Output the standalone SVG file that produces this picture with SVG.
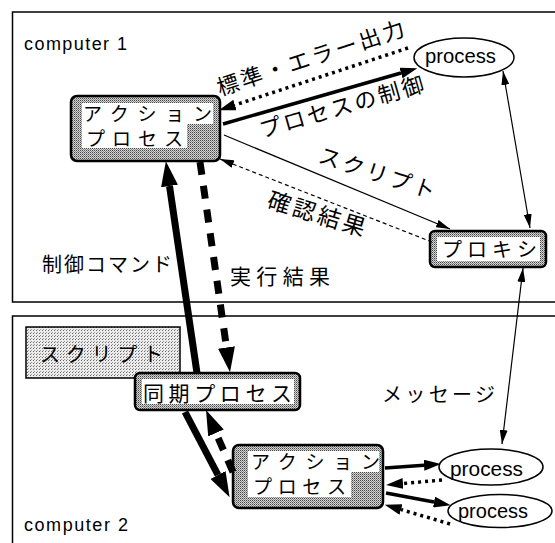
<svg xmlns="http://www.w3.org/2000/svg" width="555" height="543" viewBox="0 0 555 543">
<defs>
<pattern id="st" width="2" height="2" patternUnits="userSpaceOnUse"><rect width="2" height="2" fill="#d6d6d6"/><rect width="1" height="1" fill="#444"/><rect x="1" y="1" width="1" height="1" fill="#888"/></pattern>
<pattern id="st2" width="3" height="3" patternUnits="userSpaceOnUse"><rect width="3" height="3" fill="#ececec"/><rect width="1" height="1" fill="#666"/><rect x="1" y="2" width="1" height="1" fill="#999"/></pattern>
<marker id="at" markerUnits="userSpaceOnUse" markerWidth="14" markerHeight="8" refX="14" refY="4" orient="auto-start-reverse"><path d="M0,0 L14,4 L0,8 z" fill="#000"/></marker>
<marker id="am" markerUnits="userSpaceOnUse" markerWidth="17" markerHeight="11" refX="0" refY="5.5" orient="auto"><path d="M0,0 L17,5.5 L0,11 z" fill="#000"/></marker>
<marker id="al" markerUnits="userSpaceOnUse" markerWidth="25" markerHeight="17" refX="0" refY="8.5" orient="auto"><path d="M0,0 L25,8.5 L0,17 z" fill="#000"/></marker>
</defs>
<style>
.pn{fill:none;stroke:#000;stroke-width:1.5}
.bx{fill:url(#st);stroke:#000;stroke-width:2.5}
.wh{fill:#fff}
.el{fill:#fff;stroke:#000;stroke-width:1.5}
.jp{font-family:"Noto Sans CJK JP","Noto Sans CJK SC",sans-serif;fill:#000}
.en{font-family:"Liberation Sans",Arial,sans-serif;fill:#000}
.th{fill:none;stroke:#000;stroke-width:1.2}
.td{fill:none;stroke:#000;stroke-width:1.2;stroke-dasharray:4 3}
.md{fill:none;stroke:#000;stroke-width:3.5}
.dt{fill:none;stroke:#000;stroke-width:3.5;stroke-dasharray:3 4}
.tk{fill:none;stroke:#000;stroke-width:7}
.tkd{fill:none;stroke:#000;stroke-width:7;stroke-dasharray:13 11}
</style>

<g id="computer1">
<rect class="pn" x="12.5" y="12" width="560" height="290"/>
<text class="en" x="24" y="50" font-size="18" textLength="103" lengthAdjust="spacing">computer 1</text>
</g>
<g id="computer2">
<rect class="pn" x="12.5" y="316" width="560" height="250"/>
<text class="en" x="24" y="531" font-size="18" textLength="104" lengthAdjust="spacing">computer 2</text>
</g>

<g id="script">
<rect x="26" y="327" width="154" height="51" fill="url(#st2)" stroke="#000" stroke-width="1.5"/>
<text class="jp" x="40" y="362" font-size="20" textLength="123" lengthAdjust="spacing">スクリプト</text>
</g>

<g id="action1">
<rect class="bx" x="71" y="96" width="149" height="65" rx="6"/>
<path class="wh" d="M82,103 H213 V124 H187 V148 H82 Z"/>
<text class="jp" x="83" y="121" font-size="19" textLength="129" lengthAdjust="spacing">アクション</text>
<text class="jp" x="86" y="146" font-size="19" textLength="97" lengthAdjust="spacing">プロセス</text>
</g>

<g id="process1">
<ellipse class="el" cx="464" cy="57.5" rx="50" ry="19.5"/>
<text class="en" x="425" y="63" font-size="20" textLength="71" lengthAdjust="spacingAndGlyphs">process</text>
</g>

<g id="proxy">
<rect class="bx" x="430" y="231" width="116" height="36" rx="5"/>
<rect class="wh" x="437" y="237" width="103" height="24"/>
<text class="jp" x="442" y="257" font-size="20" textLength="95" lengthAdjust="spacing">プロキシ</text>
</g>

<g id="sync">
<rect class="bx" x="135" y="373" width="165" height="37" rx="5"/>
<rect class="wh" x="142" y="379" width="152" height="25"/>
<text class="jp" x="143" y="401" font-size="21" textLength="149" lengthAdjust="spacing">同期プロセス</text>
</g>

<g id="action2">
<rect class="bx" x="233" y="445" width="150" height="63" rx="6"/>
<path class="wh" d="M248,451 H379 V472 H351 V497 H248 Z"/>
<text class="jp" x="251" y="469" font-size="19" textLength="129" lengthAdjust="spacing">アクション</text>
<text class="jp" x="253" y="494" font-size="19" textLength="93" lengthAdjust="spacing">プロセス</text>
</g>

<g id="process2">
<ellipse class="el" cx="491" cy="467" rx="52" ry="18"/>
<text class="en" x="450" y="476" font-size="20" textLength="73" lengthAdjust="spacingAndGlyphs">process</text>
</g>
<g id="process3">
<ellipse class="el" cx="500" cy="511" rx="52" ry="16.5"/>
<text class="en" x="458" y="518" font-size="20" textLength="70" lengthAdjust="spacingAndGlyphs">process</text>
</g>

<g id="connectors">
<line class="dt" x1="408" y1="48" x2="235" y2="105" marker-end="url(#am)"/>
<line class="md" x1="223" y1="124" x2="401" y2="73" marker-end="url(#am)"/>
<line class="th" x1="224" y1="135" x2="450" y2="229" marker-end="url(#at)"/>
<line class="td" x1="432" y1="242" x2="220" y2="159" marker-end="url(#at)"/>
<line class="th" x1="503" y1="71" x2="530" y2="228" marker-start="url(#at)" marker-end="url(#at)"/>
<line class="th" x1="523" y1="268" x2="502" y2="444" marker-start="url(#at)" marker-end="url(#at)"/>
<line class="tk" x1="197" y1="373" x2="169.5" y2="186" marker-end="url(#al)"/>
<line class="tkd" x1="200" y1="162" x2="226.5" y2="347.5" marker-end="url(#al)"/>
<line class="tk" x1="185" y1="412" x2="218" y2="475" marker-end="url(#al)"/>
<line class="tkd" x1="233" y1="472" x2="216" y2="433" marker-end="url(#al)"/>
<line class="md" x1="385" y1="468" x2="424" y2="465.2" marker-end="url(#am)"/>
<line class="dt" x1="442" y1="480" x2="403" y2="483.5" marker-end="url(#am)"/>
<line class="md" x1="386" y1="493" x2="434" y2="502" marker-end="url(#am)"/>
<line class="dt" x1="450" y1="524" x2="401" y2="509.5" marker-end="url(#am)"/>
</g>

<g id="labels">
<text class="jp" x="220" y="96" font-size="22" textLength="196" lengthAdjust="spacing" transform="rotate(-18.1 220 96)">標準・エラー出力</text>
<text class="jp" x="262" y="138" font-size="22" textLength="170" lengthAdjust="spacing" transform="rotate(-16 262 138)">プロセスの制御</text>
<text class="jp" x="317" y="162" font-size="22" textLength="121" lengthAdjust="spacing" transform="rotate(18 317 162)">スクリプト</text>
<text class="jp" x="266" y="207" font-size="23" textLength="101" lengthAdjust="spacing" transform="rotate(17 266 207)">確認結果</text>
<text class="jp" x="42" y="272" font-size="20" textLength="130" lengthAdjust="spacing">制御コマンド</text>
<text class="jp" x="230" y="284" font-size="21" textLength="100" lengthAdjust="spacing">実行結果</text>
<text class="jp" x="382" y="402" font-size="20" textLength="113" lengthAdjust="spacing">メッセージ</text>
</g>
</svg>
